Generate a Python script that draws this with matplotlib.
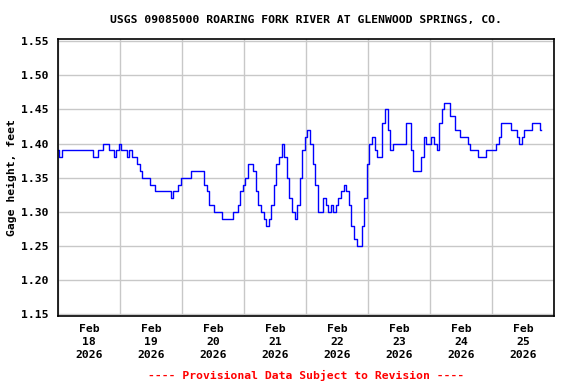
import matplotlib
matplotlib.use("Agg")
import matplotlib.pyplot as plt
import matplotlib.dates as mdates
import pandas as pd

title = "USGS 09085000 ROARING FORK RIVER AT GLENWOOD SPRINGS, CO."
ylabel = "Gage height, feet"
footer = "---- Provisional Data Subject to Revision ----"
start = "2026-02-18 00:00"
end = "2026-02-26 00:00"

# hourly gage height, starting Feb 18 00:00
gage = [
    1.39, 1.38, 1.39, 1.39, 1.39, 1.39, 1.39, 1.39, 1.39, 1.39,
    1.39, 1.39, 1.39, 1.39, 1.38, 1.38, 1.39, 1.39, 1.40, 1.40,
    1.39, 1.39, 1.38, 1.39, 1.40, 1.39, 1.39, 1.38, 1.39, 1.38,
    1.38, 1.37, 1.36, 1.35, 1.35, 1.35, 1.34, 1.34, 1.33, 1.33,
    1.33, 1.33, 1.33, 1.33, 1.32, 1.33, 1.33, 1.34, 1.35, 1.35,
    1.35, 1.35, 1.36, 1.36, 1.36, 1.36, 1.36, 1.34, 1.33, 1.31,
    1.31, 1.30, 1.30, 1.30, 1.29, 1.29, 1.29, 1.29, 1.30, 1.30,
    1.31, 1.33, 1.34, 1.35, 1.37, 1.37, 1.36, 1.33, 1.31, 1.30,
    1.29, 1.28, 1.29, 1.31, 1.34, 1.37, 1.38, 1.40, 1.38, 1.35,
    1.32, 1.30, 1.29, 1.31, 1.35, 1.39, 1.41, 1.42, 1.40, 1.37,
    1.34, 1.30, 1.30, 1.32, 1.31, 1.30, 1.31, 1.30, 1.31, 1.32,
    1.33, 1.34, 1.33, 1.31, 1.28, 1.26, 1.25, 1.25, 1.28, 1.32,
    1.37, 1.40, 1.41, 1.39, 1.38, 1.38, 1.43, 1.45, 1.42, 1.39,
    1.40, 1.40, 1.40, 1.40, 1.40, 1.43, 1.43, 1.39, 1.36, 1.36,
    1.36, 1.38, 1.41, 1.40, 1.40, 1.41, 1.40, 1.39, 1.43, 1.45,
    1.46, 1.46, 1.44, 1.44, 1.42, 1.42, 1.41, 1.41, 1.41, 1.40,
    1.39, 1.39, 1.39, 1.38, 1.38, 1.38, 1.39, 1.39, 1.39, 1.39,
    1.40, 1.41, 1.43, 1.43, 1.43, 1.43, 1.42, 1.42, 1.41, 1.40,
    1.41, 1.42, 1.42, 1.42, 1.43, 1.43, 1.43, 1.42,
]

times = pd.date_range(start, periods=len(gage), freq="h")

mono = {"family": "DejaVu Sans Mono", "weight": "bold", "size": 8.2}

fig = plt.figure(figsize=(5.76, 3.84), dpi=100)
ax = fig.add_axes([0.101, 0.177, 0.861, 0.721])

ax.plot(times, gage, color="#0000ff", lw=1.0, drawstyle="steps-mid")

ax.set_xlim(pd.Timestamp(start), pd.Timestamp(end))
ax.set_ylim(1.1475, 1.553)
ax.set_yticks([1.15, 1.20, 1.25, 1.30, 1.35, 1.40, 1.45, 1.50, 1.55])
ax.yaxis.set_major_formatter(plt.FormatStrFormatter("%.2f"))

ax.xaxis.set_major_locator(mdates.HourLocator(byhour=[12]))
ax.xaxis.set_major_formatter(mdates.DateFormatter("%b\n%d\n%Y"))
ax.xaxis.set_minor_locator(mdates.DayLocator())

ax.grid(False)
ax.grid(True, which="minor", axis="x", color="#c8c8c8", lw=1.0)
ax.grid(True, which="major", axis="y", color="#c8c8c8", lw=1.0)
ax.set_axisbelow(True)

ax.tick_params(axis="both", which="both", length=0)
ax.tick_params(axis="y", pad=7)
ax.tick_params(axis="x", pad=6)
for lab in ax.get_xticklabels() + ax.get_yticklabels():
    lab.set_fontproperties(mono)
    lab.set_linespacing(1.35)

for s in ax.spines.values():
    s.set_color("black")
    s.set_linewidth(1.2)

ax.set_ylabel(ylabel, fontdict=mono, labelpad=3)
fig.text(0.531, 0.949, title, ha="center", va="center", fontdict=mono)
fig.text(0.531, 0.021, footer, ha="center", va="center", color="red", fontdict=mono)

fig.savefig("out.png", dpi=100)
